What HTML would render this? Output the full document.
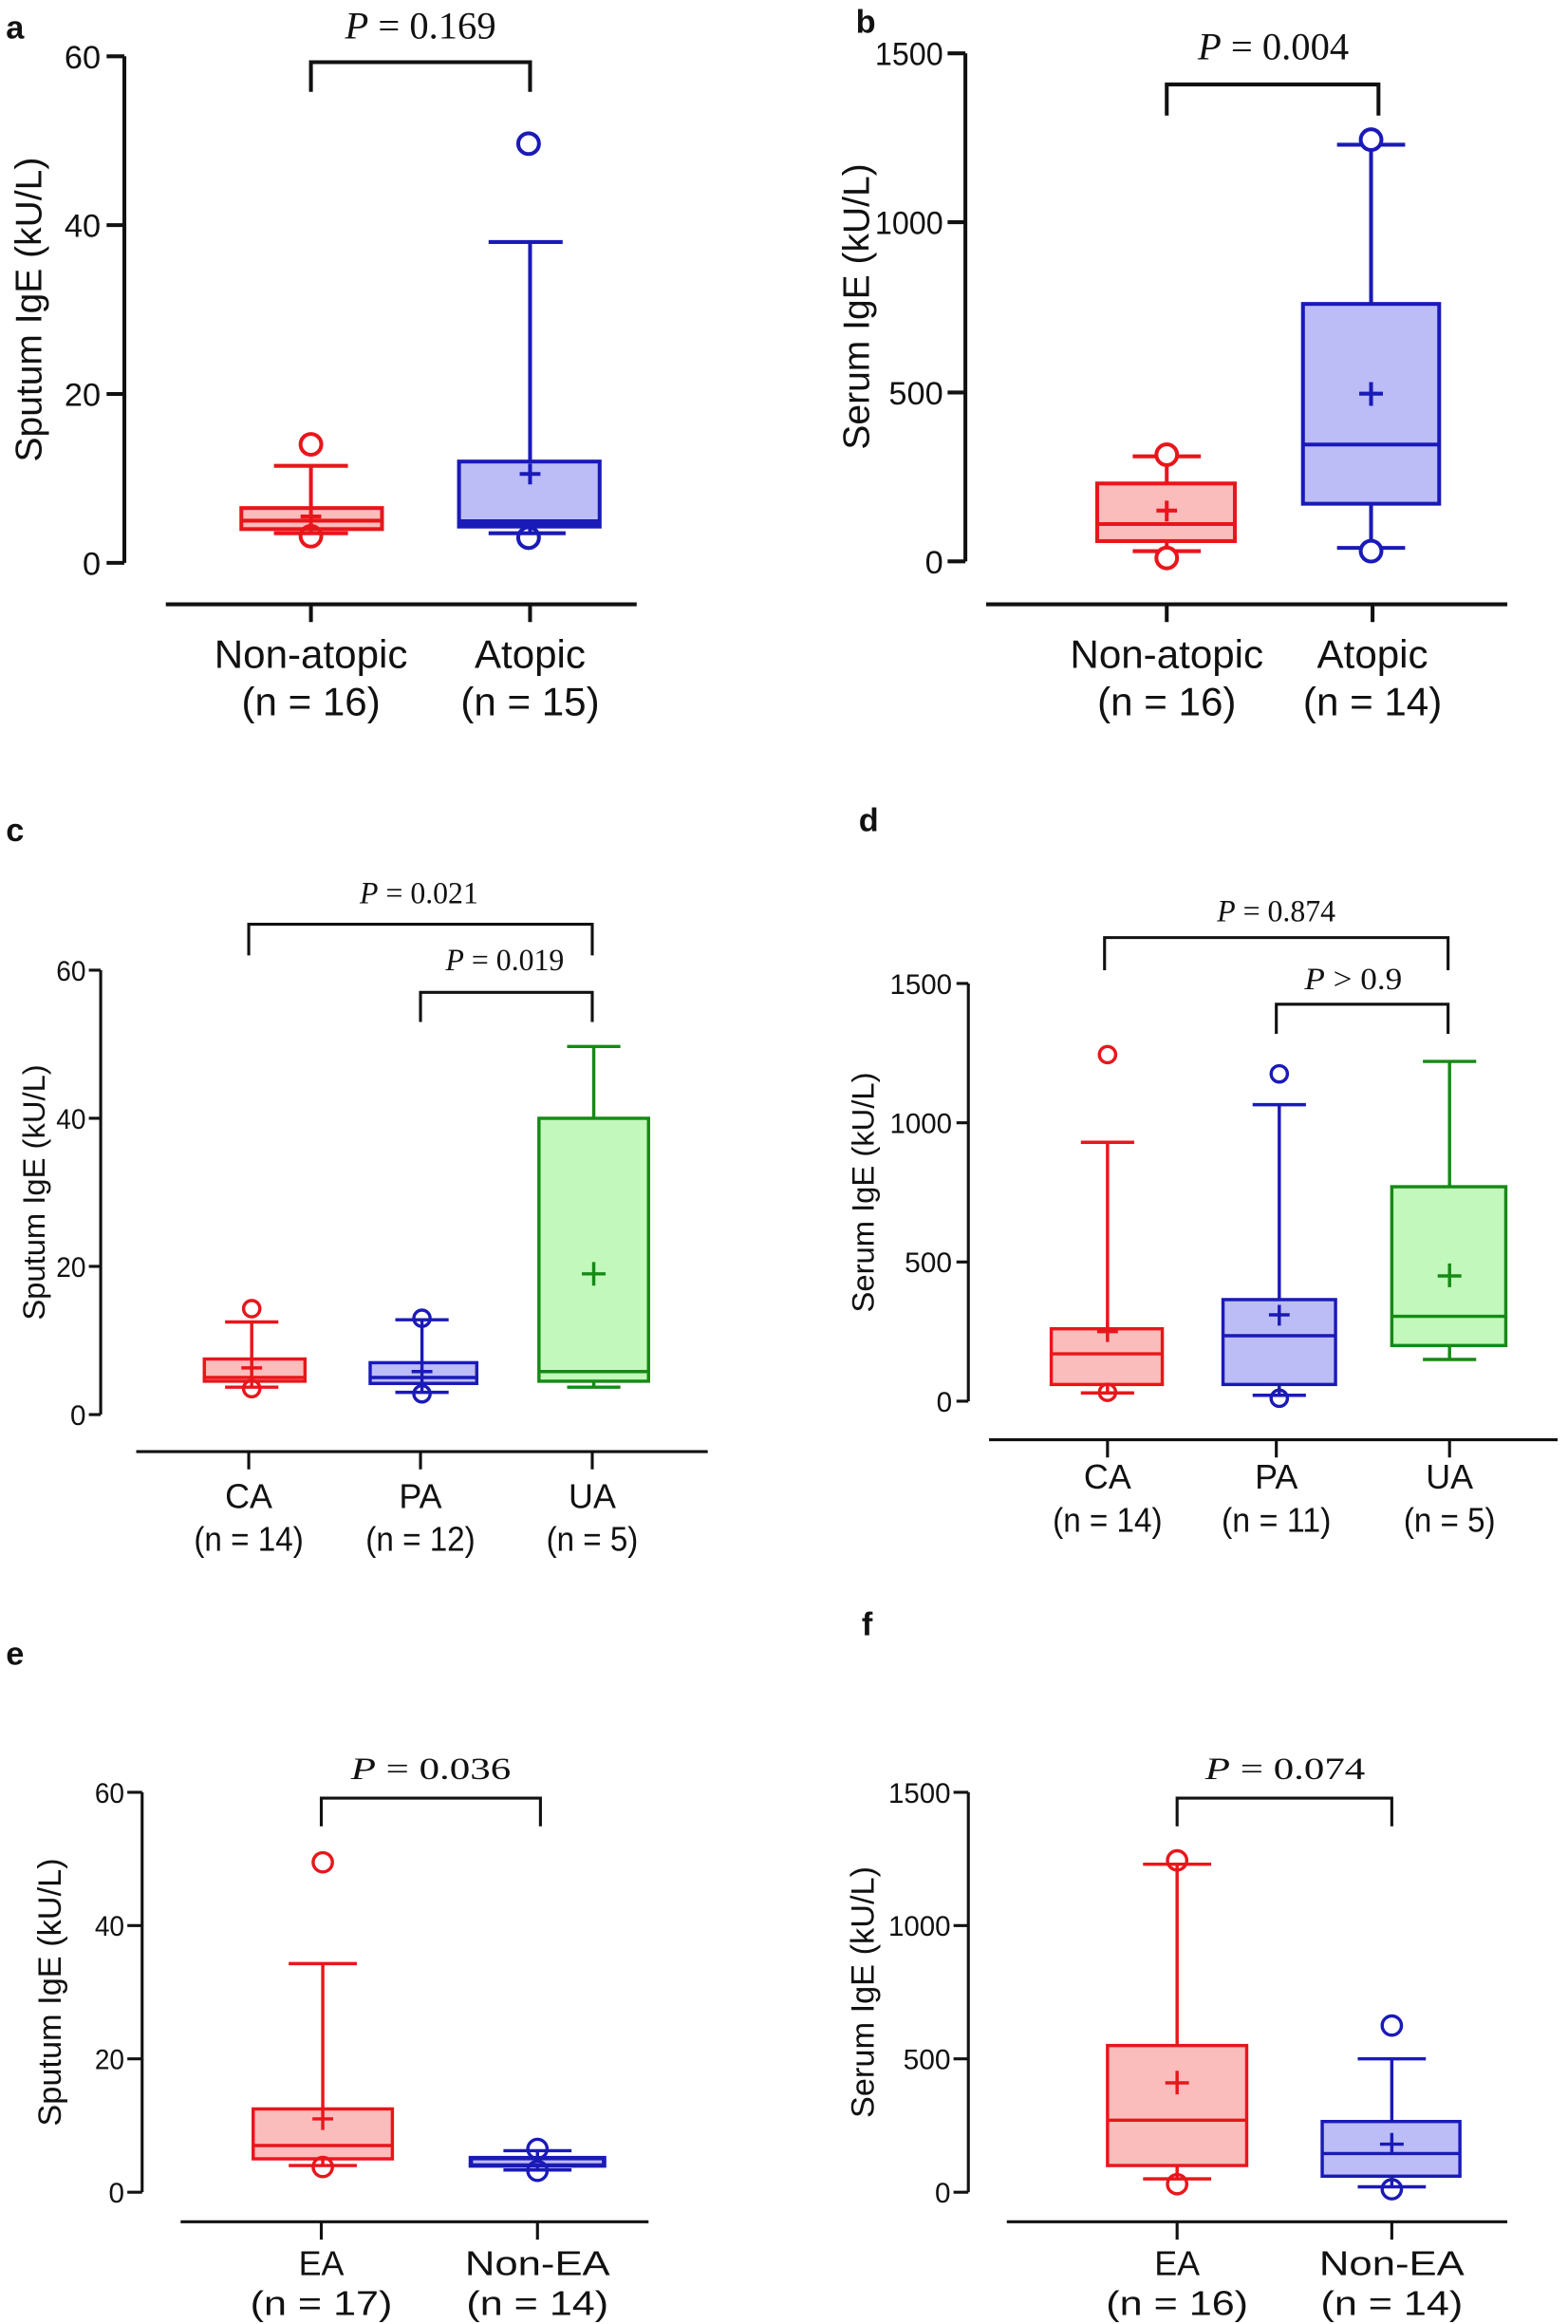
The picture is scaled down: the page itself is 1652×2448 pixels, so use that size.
<!DOCTYPE html>
<html><head><meta charset="utf-8"><style>
html,body{margin:0;padding:0;background:#fff}
svg{display:block}
text{font-family:"Liberation Sans",sans-serif;fill:#111}
.s text{font-family:"Liberation Serif",serif}
.r{stroke:#e8161b;fill:#fbbcbc}.b{stroke:#1a1ab8;fill:#bcbcf7}.g{stroke:#158a15;fill:#c2f8bb}
.ln{fill:none;stroke-width:2.6}
</style></head><body>
<svg width="1652" height="2448" viewBox="0 0 1059 1569" preserveAspectRatio="none" xmlns="http://www.w3.org/2000/svg">
<g font-weight="bold" font-size="22"><text x="4" y="26">a</text><text x="578" y="22">b</text><text x="4" y="568">c</text><text x="580" y="561">d</text><text x="4" y="1124">e</text><text x="582" y="1104">f</text></g>

<g stroke="#111" stroke-width="2.6" fill="none">
<path d="M84 38V380M72 38H84M72 152H84M72 266H84M72 380H84M112 408H430M210 408V420M358 408V420M210 62V42H358V62"/>
<path d="M652 36V379M640 36H652M640 150H652M640 265H652M640 379H652M666 408H1018M788 408V420M927 408V420M788 78V57H931V78"/>
<path d="M68 655V955M60 655H68M60 755H68M60 855H68M60 955H68M92 980H478M168 980V992M284 980V992M400 980V992M168 645V624H400V645M284 690V670H400V690" stroke-width="2"/>
<path d="M654 664V946M646 664H654M646 758H654M646 852H654M646 946H654M668 972H1052M748 972V984M862 972V984M979 972V984M746 655V633H978V655M862 698V678H978V698" stroke-width="2"/>
<path d="M96 1210V1480M86 1210H96M86 1300H96M86 1390H96M86 1480H96M122 1500H438M217 1500V1512M363 1500V1512M217 1233V1214H365V1233" stroke-width="2"/>
<path d="M654 1210V1480M644 1210H654M644 1300H654M644 1390H654M644 1480H654M680 1500H1018M795 1500V1512M940 1500V1512M795 1233V1214H940V1233" stroke-width="2"/>
</g>

<g font-size="22" text-anchor="end"><text x="68" y="46">60</text><text x="68" y="160">40</text><text x="68" y="274">20</text><text x="68" y="388">0</text>
<text x="637" y="44" textLength="46" lengthAdjust="spacingAndGlyphs">1500</text><text x="637" y="158" textLength="46" lengthAdjust="spacingAndGlyphs">1000</text><text x="637" y="273">500</text><text x="637" y="387">0</text></g>
<text font-size="25" text-anchor="middle" transform="translate(28,209) rotate(-90)">Sputum IgE (kU/L)</text>
<text font-size="25" text-anchor="middle" transform="translate(587,207) rotate(-90)">Serum IgE (kU/L)</text>
<g font-size="27" text-anchor="middle"><text x="210" y="451">Non-atopic</text><text x="210" y="483">(n = 16)</text><text x="358" y="451">Atopic</text><text x="358" y="483">(n = 15)</text>
<text x="788" y="451">Non-atopic</text><text x="788" y="483">(n = 16)</text><text x="927" y="451">Atopic</text><text x="927" y="483">(n = 14)</text></g>
<g class="s" font-size="26" text-anchor="middle"><text x="284" y="26"><tspan font-style="italic">P</tspan> = 0.169</text><text x="860" y="40"><tspan font-style="italic">P</tspan> = 0.004</text></g>

<g font-size="19" text-anchor="end"><text x="58" y="662" textLength="20" lengthAdjust="spacingAndGlyphs">60</text><text x="58" y="762" textLength="20" lengthAdjust="spacingAndGlyphs">40</text><text x="58" y="862" textLength="20" lengthAdjust="spacingAndGlyphs">20</text><text x="58" y="962">0</text>
<text x="643" y="671" textLength="42" lengthAdjust="spacingAndGlyphs">1500</text><text x="643" y="765" textLength="42" lengthAdjust="spacingAndGlyphs">1000</text><text x="643" y="859" textLength="32" lengthAdjust="spacingAndGlyphs">500</text><text x="643" y="953">0</text>
<text x="84" y="1217" textLength="20" lengthAdjust="spacingAndGlyphs">60</text><text x="84" y="1307" textLength="20" lengthAdjust="spacingAndGlyphs">40</text><text x="84" y="1397" textLength="20" lengthAdjust="spacingAndGlyphs">20</text><text x="84" y="1487">0</text>
<text x="642" y="1217" textLength="42" lengthAdjust="spacingAndGlyphs">1500</text><text x="642" y="1307" textLength="42" lengthAdjust="spacingAndGlyphs">1000</text><text x="642" y="1397" textLength="32" lengthAdjust="spacingAndGlyphs">500</text><text x="642" y="1487">0</text></g>
<text font-size="21" text-anchor="middle" transform="translate(30,805) rotate(-90)">Sputum IgE (kU/L)</text>
<text font-size="21" text-anchor="middle" transform="translate(590,805) rotate(-90)">Serum IgE (kU/L)</text>
<text font-size="22" text-anchor="middle" transform="translate(41,1345) rotate(-90)">Sputum IgE (kU/L)</text>
<text font-size="22" text-anchor="middle" transform="translate(590,1345) rotate(-90)">Serum IgE (kU/L)</text>
<g font-size="23" text-anchor="middle">
<text x="168" y="1018">CA</text><text x="168" y="1047" textLength="74" lengthAdjust="spacingAndGlyphs">(n = 14)</text>
<text x="284" y="1018">PA</text><text x="284" y="1047" textLength="74" lengthAdjust="spacingAndGlyphs">(n = 12)</text>
<text x="400" y="1018">UA</text><text x="400" y="1047" textLength="62" lengthAdjust="spacingAndGlyphs">(n = 5)</text>
<text x="748" y="1005">CA</text><text x="748" y="1034" textLength="74" lengthAdjust="spacingAndGlyphs">(n = 14)</text>
<text x="862" y="1005">PA</text><text x="862" y="1034" textLength="74" lengthAdjust="spacingAndGlyphs">(n = 11)</text>
<text x="979" y="1005">UA</text><text x="979" y="1034" textLength="62" lengthAdjust="spacingAndGlyphs">(n = 5)</text>
<text x="217" y="1536">EA</text><text x="217" y="1563" textLength="96" lengthAdjust="spacingAndGlyphs">(n = 17)</text>
<text x="363" y="1536" textLength="98" lengthAdjust="spacingAndGlyphs">Non-EA</text><text x="363" y="1563" textLength="96" lengthAdjust="spacingAndGlyphs">(n = 14)</text>
<text x="795" y="1536">EA</text><text x="795" y="1563" textLength="96" lengthAdjust="spacingAndGlyphs">(n = 16)</text>
<text x="940" y="1536" textLength="98" lengthAdjust="spacingAndGlyphs">Non-EA</text><text x="940" y="1563" textLength="96" lengthAdjust="spacingAndGlyphs">(n = 14)</text></g>
<g class="s" font-size="21" text-anchor="middle">
<text x="283" y="610" textLength="80" lengthAdjust="spacingAndGlyphs"><tspan font-style="italic">P</tspan> = 0.021</text>
<text x="341" y="655" textLength="80" lengthAdjust="spacingAndGlyphs"><tspan font-style="italic">P</tspan> = 0.019</text>
<text x="862" y="622" textLength="80" lengthAdjust="spacingAndGlyphs"><tspan font-style="italic">P</tspan> = 0.874</text>
<text x="914" y="668" textLength="66" lengthAdjust="spacingAndGlyphs"><tspan font-style="italic">P</tspan> &gt; 0.9</text>
<text x="291" y="1201" textLength="108" lengthAdjust="spacingAndGlyphs"><tspan font-style="italic">P</tspan> = 0.036</text>
<text x="868" y="1201" textLength="108" lengthAdjust="spacingAndGlyphs"><tspan font-style="italic">P</tspan> = 0.074</text></g>

<g class="ln">
<g class="r"><path d="M210 360V314.5M185 314.5H235M185 360H235" fill="none"/><rect x="163" y="343" width="95" height="14.2"/><path d="M163 351.5H258M203 348.7H217M210 342V355" fill="none"/><circle cx="210" cy="300" r="7" fill="#fff"/><circle cx="210" cy="362" r="7" fill="none"/></g>
<g class="b"><path d="M358 360V163.4M330 163.4H380M330 360H382" fill="none"/><rect x="310" y="311.6" width="95" height="43.9"/><path d="M310 352.6H405" fill="none" stroke-width="4"/><path d="M351 320H365M358 313V327" fill="none"/><circle cx="357" cy="97" r="7" fill="#fff"/><circle cx="357" cy="363" r="7" fill="none"/></g>
<g class="r"><path d="M788 372.1V308.1M765 308.1H811M765 372.1H811" fill="none"/><rect x="741" y="326.4" width="93" height="38.9"/><path d="M741 353.8H834M781 344.7H795M788 338V352" fill="none"/><circle cx="788" cy="307" r="7" fill="#fff"/><circle cx="788" cy="376.7" r="7" fill="#fff"/></g>
<g class="b"><path d="M926 369.9V97.7M903 97.7H949M903 369.9H949" fill="none"/><rect x="880" y="205.2" width="92" height="134.9"/><path d="M880 300.1H972M918 265.8H934M926 258V274" fill="none"/><circle cx="926" cy="94.3" r="7" fill="#fff"/><circle cx="926" cy="372.1" r="7" fill="#fff"/></g>

<g stroke-width="2.2">
<g class="r"><path d="M170 936.5V892.5M152 892.5H188M152 936.5H188" fill="none"/><rect x="138" y="917.5" width="68" height="15"/><path d="M138 930H206M163 923.5H177M170 917V930" fill="none"/><circle cx="170" cy="883.5" r="5.5" fill="#fff"/><circle cx="170" cy="937.5" r="5.5" fill="none"/></g>
<g class="b"><path d="M285 940V891M267 891H303M267 940H303" fill="none"/><rect x="250" y="920" width="72" height="14"/><path d="M250 930H322M278 926H292M285 919V933" fill="none"/><circle cx="285" cy="890" r="5.5" fill="none"/><circle cx="285" cy="941" r="5.5" fill="none"/></g>
<g class="g"><path d="M401 936.5V706.5M383 706.5H419M383 936.5H419" fill="none"/><rect x="364" y="755" width="74" height="177.5"/><path d="M364 926H438M393 860H409M401 852V868" fill="none"/></g>
<g class="r"><path d="M748 940.4V771.2M730 771.2H766M730 940.4H766" fill="none"/><rect x="710" y="897.1" width="75" height="37.6"/><path d="M710 914H785M741 899H755M748 892V906" fill="none"/><circle cx="748" cy="712" r="5.5" fill="#fff"/><circle cx="748" cy="940" r="5.5" fill="none"/></g>
<g class="b"><path d="M864 942V745.8M846 745.8H882M846 942H882" fill="none"/><rect x="826" y="877.4" width="76" height="57.3"/><path d="M826 901.8H902M857 887.7H871M864 881V895" fill="none"/><circle cx="864" cy="725" r="5.5" fill="#fff"/><circle cx="864" cy="944" r="5.5" fill="none"/></g>
<g class="g"><path d="M979 917.8V716.6M961 716.6H997M961 917.8H997" fill="none"/><rect x="940" y="801.2" width="77" height="107.2"/><path d="M940 888.7H1017M971 861.4H987M979 853V869" fill="none"/></g>
<g class="r"><path d="M218 1462V1325.7M195 1325.7H241M195 1462H241" fill="none"/><rect x="171" y="1423.8" width="94" height="33.7"/><path d="M171 1448.5H265M211 1430.5H225M218 1423V1438" fill="none"/><circle cx="218" cy="1257.3" r="6.5" fill="#fff"/><circle cx="218" cy="1463" r="6.5" fill="none"/></g>
<g class="b"><path d="M363 1465V1452M340 1452H386M340 1465H386" fill="none"/><rect x="318" y="1457" width="90" height="5" stroke-width="3"/><circle cx="363" cy="1450.8" r="6.5" fill="none"/><circle cx="363" cy="1465.6" r="6.5" fill="none"/></g>
<g class="r"><path d="M795 1471V1258.6M772 1258.6H818M772 1471H818" fill="none"/><rect x="748" y="1381" width="94" height="81"/><path d="M748 1431.4H842M787 1406.2H803M795 1398V1414" fill="none"/><circle cx="795" cy="1256" r="6.5" fill="none"/><circle cx="795" cy="1474.6" r="6.5" fill="none"/></g>
<g class="b"><path d="M940 1476.4V1390M917 1390H963M917 1476.4H963" fill="none"/><rect x="893" y="1432.3" width="93" height="36.9"/><path d="M893 1453.9H986M932 1447.6H948M940 1440V1455" fill="none"/><circle cx="940" cy="1367.5" r="6.5" fill="#fff"/><circle cx="940" cy="1478" r="6.5" fill="none"/></g>
</g>
</g>
</svg>
</body></html>
